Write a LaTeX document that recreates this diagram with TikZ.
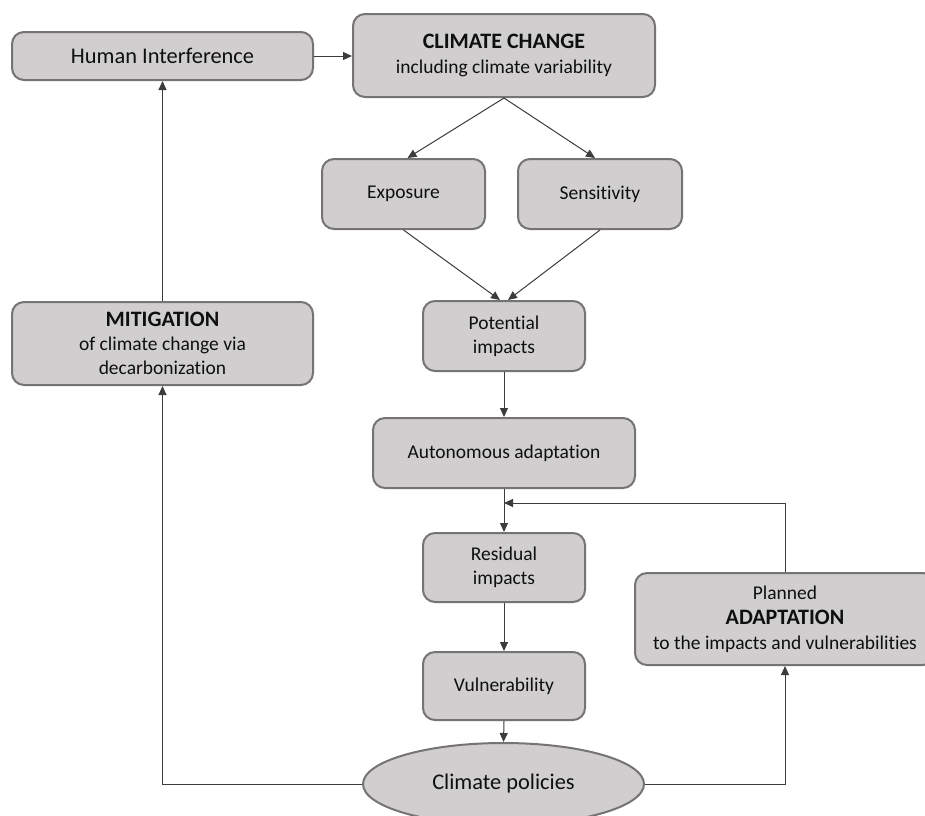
\documentclass[tikz,border=0pt]{standalone}
\usepackage{fontspec}
\setmainfont{Carlito}[Ligatures=NoCommon,RawFeature=-liga]
\usetikzlibrary{arrows.meta,shapes.geometric}
\definecolor{boxfill}{RGB}{208,206,206}
\definecolor{boxline}{RGB}{118,115,115}
\definecolor{conn}{RGB}{60,60,60}
\definecolor{txt}{RGB}{15,15,15}
\begin{document}
\begin{tikzpicture}[x=1pt,y=-1pt,
  box/.style={draw=boxline,line width=2pt,fill=boxfill,rounded corners=12pt,
    align=center,text=txt,inner sep=0pt,font=\fontsize{19.5}{24}\selectfont},
  oval/.style={ellipse,draw=boxline,line width=2pt,fill=boxfill,text=txt,
    inner sep=0pt,font=\fontsize{22.4}{26}\selectfont},
  arr/.style={draw=conn,line width=1pt,-{Triangle[length=9pt,width=8pt]}},
  plain/.style={draw=conn,line width=1pt},
  title/.style={font=\fontsize{22}{26}\selectfont\bfseries}
]
\useasboundingbox (0,0) rectangle (925,815);

% clipped heading at the top edge
\node[anchor=base east,text=txt,inner sep=0pt,font=\fontsize{31}{31}\selectfont]
  (head) at (695,-9) {Concentration in the atmosphere of greenhouse gases (GHG)};

\node[box,minimum width=301pt,minimum height=48pt,font=\fontsize{22.4}{26}\selectfont]
  (hi) at (162.5,56) {Human Interference};
\node[box,minimum width=302pt,minimum height=83pt] (cc) at (504,55.5)
  {{\fontsize{22}{24}\selectfont\bfseries CLIMATE CHANGE}\\[1pt]including climate variability};
\node[box,minimum width=163pt,minimum height=70pt] (exp) at (403.5,194) {Exposure};
\node[box,minimum width=164pt,minimum height=70pt] (sen) at (600,194) {Sensitivity};
\node[box,minimum width=162pt,minimum height=70pt] (pot) at (504,336) {Potential\\impacts};
\node[box,minimum width=301pt,minimum height=83pt] (mit) at (162.5,343.5)
  {{\fontsize{22}{24}\selectfont\bfseries MITIGATION}\\of climate change via\\decarbonization};
\node[box,minimum width=262pt,minimum height=70pt] (aa) at (504,453) {Autonomous adaptation};
\node[box,minimum width=162pt,minimum height=69pt] (res) at (504,567.5) {Residual\\impacts};
\node[box,minimum width=300pt,minimum height=92pt] (adapt) at (785,619)
  {Planned\\[1pt]{\fontsize{22}{24}\selectfont\bfseries ADAPTATION}\\[1pt]to the impacts and vulnerabilities};
\node[box,minimum width=162pt,minimum height=68pt] (vul) at (504,686) {Vulnerability};
\node[oval,minimum width=281pt,minimum height=82pt] (pol) at (503.5,784) {Climate policies};

\coordinate (join) at (504,503);

\draw[arr] (hi.east) -- (hi.east -| cc.west);
\draw[arr] (cc.south) -- ([xshift=4pt]exp.north);
\draw[arr] (cc.south) -- ([xshift=-5pt]sen.north);
\draw[arr] (exp.south) -- ([xshift=-4pt]pot.north);
\draw[arr] (sen.south) -- ([xshift=4pt]pot.north);
\draw[arr] (pot.south) -- (aa.north);
\draw[arr] (aa.south) -- (res.north);
\draw[arr] (adapt.north) |- (join);
\draw[arr] (res.south) -- (vul.north);
\draw[arr] (vul.south) -- (pol.north);
\draw[arr] (pol.west) -| (mit.south);
\draw[arr] (pol.east) -| (adapt.south);
\draw[arr] (mit.north) -- (hi.south);
\end{tikzpicture}
\end{document}
